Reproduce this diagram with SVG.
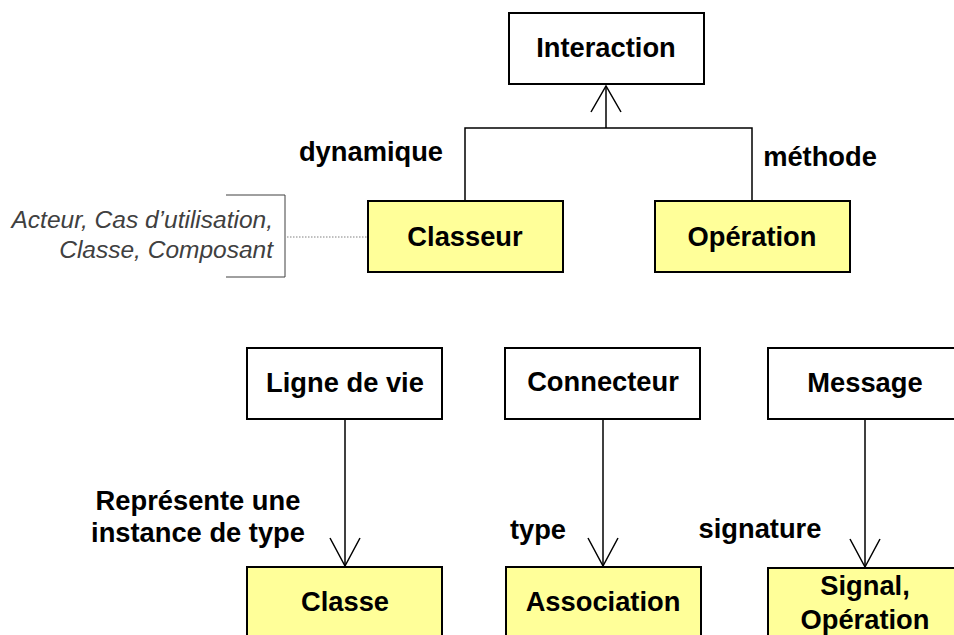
<svg xmlns="http://www.w3.org/2000/svg" width="954" height="635" viewBox="0 0 954 635">
<style>
.box{stroke:#000;stroke-width:2;}
.w{fill:#fff;}
.y{fill:#ffff99;}
.t{font-family:"Liberation Sans",Arial,sans-serif;font-weight:bold;font-size:27.3px;fill:#000;text-anchor:middle;}
.l{font-family:"Liberation Sans",Arial,sans-serif;font-weight:bold;font-size:27.3px;fill:#000;text-anchor:middle;}
.n{font-family:"Liberation Sans",Arial,sans-serif;font-style:italic;font-size:24.5px;fill:#404040;text-anchor:end;}
.c{stroke:#000;stroke-width:1.5;fill:none;}
</style>
<rect width="954" height="635" fill="#fff"/>
<g id="connectors">
<polyline class="c" points="465,201 465,128 752,128 752,201"/>
<line class="c" x1="606" y1="128" x2="606" y2="86"/>
<polyline class="c" points="591,112 606,86 621,112"/>
<line class="c" x1="345" y1="419" x2="345" y2="566"/>
<polyline class="c" points="330,538 345,566 360,538"/>
<line class="c" x1="603" y1="419" x2="603" y2="566"/>
<polyline class="c" points="588,538 603,566 618,538"/>
<line class="c" x1="865" y1="419" x2="865" y2="567"/>
<polyline class="c" points="850,539 865,567 880,539"/>
<line x1="287" y1="237" x2="367" y2="237" stroke="#808080" stroke-width="1" stroke-dasharray="1.5,1.5"/>
<text class="l" x="371" y="161">dynamique</text>
<text class="l" x="820" y="166">méthode</text>
<text class="l" x="198" y="510">Représente une</text>
<text class="l" x="198" y="542">instance de type</text>
<text class="l" x="538" y="539">type</text>
<text class="l" x="760" y="538">signature</text>
</g>
<g id="note">
<polyline points="226,195 285,195 285,277 226,277" fill="none" stroke="#404040" stroke-width="1"/>
<text class="n" x="273" y="228">Acteur, Cas d’utilisation,</text>
<text class="n" x="273" y="258">Classe, Composant</text>
</g>
<g id="interaction"><rect class="box w" x="509" y="13" width="195" height="71"/><text class="t" x="606" y="57">Interaction</text></g>
<g id="classeur"><rect class="box y" x="368" y="201" width="195" height="71"/><text class="t" x="465" y="246">Classeur</text></g>
<g id="operation"><rect class="box y" x="655" y="201" width="195" height="71"/><text class="t" x="752" y="246">Opération</text></g>
<g id="ligne"><rect class="box w" x="247" y="348" width="195" height="71"/><text class="t" x="345" y="392">Ligne de vie</text></g>
<g id="connecteur"><rect class="box w" x="505" y="348" width="195" height="71"/><text class="t" x="603" y="391">Connecteur</text></g>
<g id="message"><rect class="box w" x="768" y="348" width="195" height="71"/><text class="t" x="865" y="392">Message</text></g>
<g id="classe"><rect class="box y" x="247" y="567" width="195" height="80"/><text class="t" x="345" y="611">Classe</text></g>
<g id="association"><rect class="box y" x="506" y="567" width="195" height="80"/><text class="t" x="603" y="611">Association</text></g>
<g id="signal"><rect class="box y" x="768" y="568" width="195" height="80"/><text class="t" x="865" y="595">Signal,</text><text class="t" x="865" y="629">Opération</text></g>
</svg>
